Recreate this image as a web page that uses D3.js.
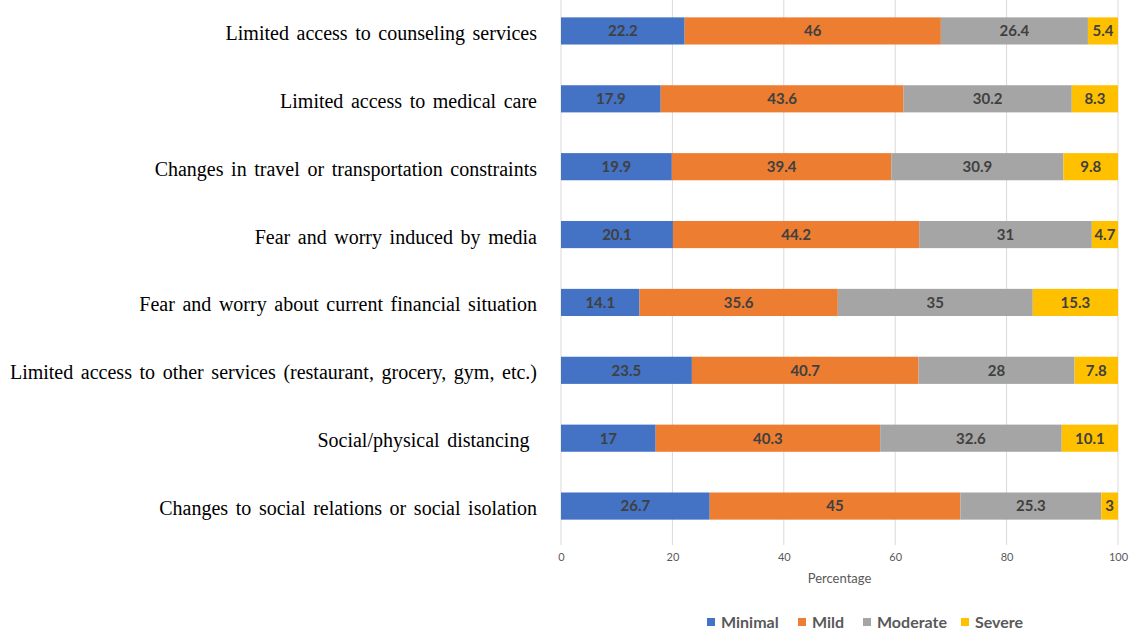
<!DOCTYPE html>
<html>
<head>
<meta charset="utf-8">
<script src="https://cdn.jsdelivr.net/npm/d3@7"></script>
<style>
  body { margin: 0; background: #fff; }
</style>
</head>
<body>
<div id="chart"></div>
<script>
var categories = [
  'Limited access to counseling services',
  'Limited access to medical care',
  'Changes in travel or transportation constraints',
  'Fear and worry induced by media',
  'Fear and worry about current financial situation',
  'Limited access to other services (restaurant, grocery, gym, etc.)',
  'Social/physical distancing ',
  'Changes to social relations or social isolation'
]
var minimal  = [22.2, 17.9, 19.9, 20.1, 14.1, 23.5, 17, 26.7]
var mild     = [46, 43.6, 39.4, 44.2, 35.6, 40.7, 40.3, 45]
var moderate = [26.4, 30.2, 30.9, 31, 35, 28, 32.6, 25.3]
var severe   = [5.4, 8.3, 9.8, 4.7, 15.3, 7.8, 10.1, 3]
var seriesNames = ['Minimal', 'Mild', 'Moderate', 'Severe']
var colors = ['#4472C4', '#ED7D31', '#A5A5A5', '#FFC000']
var xTicks = [0, 20, 40, 60, 80, 100]

var W = 1130, H = 633
var svg = d3.select('#chart').append('svg').attr('width', W).attr('height', H)

var x = d3.scaleLinear().domain([0, 100]).range([561, 1118])
var y = d3.scaleBand().domain(categories).range([-3, 540]).paddingInner(0.6).paddingOuter(0.3)

// build stacked rows
var rows = categories.map((c, i) => ({cat: c, Minimal: minimal[i], Mild: mild[i], Moderate: moderate[i], Severe: severe[i]}))
var stacked = d3.stack().keys(seriesNames)(rows)

// gridlines
svg.append('g').selectAll('line').data(xTicks).enter().append('line')
  .attr('x1', d => x(d)).attr('x2', d => x(d))
  .attr('y1', 0).attr('y2', 545)
  .attr('stroke', '#d9d9d9').attr('stroke-width', 1)

// bars
var layers = svg.append('g').selectAll('g').data(stacked).enter().append('g')
  .attr('fill', (d, i) => colors[i])

layers.selectAll('rect').data(d => d).enter().append('rect')
  .attr('x', d => x(d[0]))
  .attr('width', d => x(d[1]) - x(d[0]))
  .attr('y', d => y(d.data.cat))
  .attr('height', y.bandwidth())

layers.selectAll('text').data(d => d).enter().append('text')
  .attr('x', d => (x(d[0]) + x(d[1])) / 2)
  .attr('y', d => y(d.data.cat) + y.bandwidth() / 2)
  .attr('dy', '0.36em')
  .attr('text-anchor', 'middle')
  .attr('font-family', 'Lato, "Open Sans", sans-serif')
  .attr('font-weight', 'bold')
  .attr('font-size', 15)
  .attr('fill', '#404040')
  .text(d => d[1] - d[0] > 0 ? +(d[1] - d[0]).toFixed(1) : '')

// category labels
svg.append('g').selectAll('text').data(categories).enter().append('text')
  .attr('x', 537)
  .attr('y', d => y(d) + y.bandwidth() / 2 + 2)
  .attr('dy', '0.35em')
  .attr('text-anchor', 'end')
  .attr('font-family', '"Liberation Serif", "Times New Roman", serif')
  .attr('font-size', 20)
  .attr('word-spacing', 2.6)
  .attr('fill', '#000')
  .style('white-space', 'pre')
  .text(d => d)

// x axis
var xAxis = svg.append('g').attr('transform', 'translate(0,545)')
  .call(d3.axisBottom(x).tickValues(xTicks).tickSize(0).tickPadding(8))
xAxis.select('.domain').remove()
xAxis.selectAll('text')
  .attr('font-family', 'Lato, sans-serif')
  .attr('font-size', 11)
  .attr('fill', '#595959')

svg.append('text')
  .attr('x', x(50)).attr('y', 583)
  .attr('text-anchor', 'middle')
  .attr('font-family', 'Lato, sans-serif')
  .attr('font-size', 13)
  .attr('fill', '#595959')
  .text('Percentage')

// legend
var legendX = [707, 798, 863, 961]
var legend = svg.append('g').selectAll('g').data(seriesNames).enter().append('g')
  .attr('transform', (d, i) => `translate(${legendX[i]},622)`)
legend.append('rect')
  .attr('x', 0).attr('y', -4).attr('width', 8).attr('height', 8)
  .attr('fill', (d, i) => colors[i])
legend.append('text')
  .attr('x', 14).attr('dy', '0.35em')
  .attr('font-family', 'Lato, sans-serif')
  .attr('font-weight', 'bold')
  .attr('font-size', 16)
  .attr('fill', '#595959')
  .text(d => d)
</script>
</body>
</html>
